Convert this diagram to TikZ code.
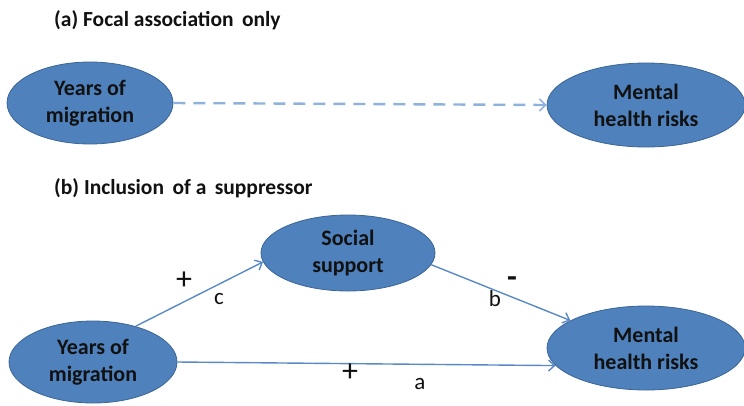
\documentclass[tikz,border=0pt]{standalone}
\usepackage{fontspec}
\setmainfont{Carlito}
\usetikzlibrary{shapes.geometric,arrows.meta}
\definecolor{efill}{HTML}{4F81BD}
\definecolor{edraw}{HTML}{3A6594}
\definecolor{arr}{HTML}{5A8AC6}
\definecolor{darr}{HTML}{8FB2DD}
\definecolor{txt}{HTML}{111111}
\tikzset{
  oval/.style={ellipse, fill=efill, draw=edraw, line width=0.8pt, inner sep=0pt,
    align=center, text=txt, font=\fontsize{22}{27}\selectfont\bfseries},
  conn/.style={draw=arr, line width=1.4pt, -{Straight Barb[length=6pt,width=11pt,line width=1.4pt]}},
  dconn/.style={draw=darr, line width=2.4pt, dash pattern=on 12pt off 8pt,
    -{Straight Barb[length=6pt,width=12pt,line width=1.6pt]}},
  ttl/.style={anchor=west, inner sep=0pt, text=txt, font=\fontsize{21.5}{24}\selectfont\bfseries},
  lbl/.style={inner sep=0pt, text=txt, font=\fontsize{23}{24}\selectfont},
  plus/.style={inner sep=0pt, text=txt, font=\fontsize{32}{32}\selectfont},
}
\begin{document}
\begin{tikzpicture}[x=1pt,y=-1pt]
\useasboundingbox (0,0) rectangle (744,405);
\node[ttl] (ta) at (54,20) {(a) Focal association \,only};
\node[ttl] (tb) at (54,188) {(b) Inclusion \,of a \,suppressor};
\node[oval, minimum width=166pt, minimum height=82pt] (ya) at (90,103) {Years of\\migration};
\node[oval, minimum width=198pt, minimum height=84pt] (ma) at (646,105) {Mental\\health risks};
\draw[dconn] (ya.east) -- (ma.west);
\node[oval, minimum width=174pt, minimum height=76pt] (ss) at (348,253) {Social\\support};
\node[oval, minimum width=168pt, minimum height=82pt] (yb) at (93,362) {Years of\\migration};
\node[oval, minimum width=198pt, minimum height=84pt] (mb) at (646,348) {Mental\\health risks};
\draw[conn] (yb.40) -- (ss.186);
\draw[conn] (ss.-8) -- (mb.160);
\draw[conn] (yb.east) -- (mb.191);
\node[plus] (p1) at (184,281) {+};
\node[lbl] (c) at (219,299) {c};
\node[plus] (m1) at (512,282) {\bfseries -};
\node[lbl] (b) at (495,299) {b};
\node[plus] (p2) at (350,373) {+};
\node[lbl] (a) at (420,384) {a};
\end{tikzpicture}
\end{document}
